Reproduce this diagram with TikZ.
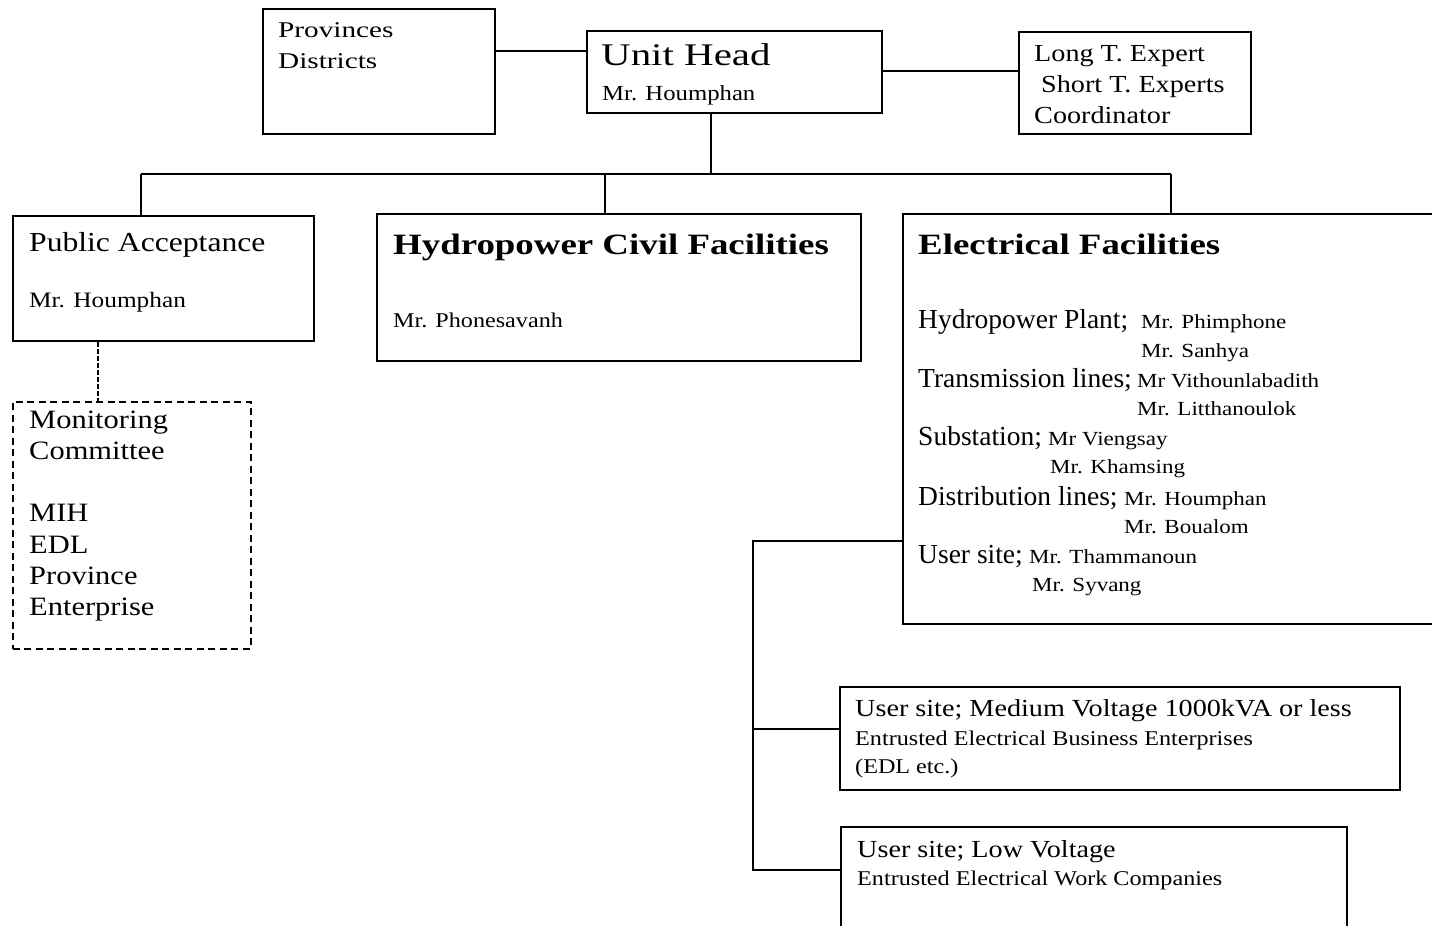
\documentclass[tikz,border=0pt]{standalone}
\usepackage{fontspec}
\setmainfont{Liberation Serif}
\newfontfamily\fntA{Liberation Serif}
\newfontfamily\fntB{Liberation Serif}[FakeStretch=1.15]
\newfontfamily\fntC{Liberation Serif}[FakeStretch=1.3]
\newfontfamily\fntD{Liberation Serif}[FakeStretch=1.25]
\newcommand\setfs[1]{\fontsize{#1}{#1}\selectfont}
\begin{document}
\begin{tikzpicture}[x=1pt,y=-1pt,
  box/.style={draw, line width=1.8pt, inner sep=0pt, anchor=north west},
  dbox/.style={box, line width=1.8pt, dash pattern=on 7pt off 4.5pt},
  txt/.style={anchor=base west, inner sep=0pt},
  link/.style={line width=1.8pt},
  dlink/.style={line width=1.1pt, dash pattern=on 5pt off 2pt}]
\useasboundingbox (0,0) rectangle (1432,926);
\fill[white] (0,0) rectangle (1432,926);
\clip (0,0) rectangle (1432,926);

% boxes
\node[box, minimum width=232pt, minimum height=125pt] (prov) at (262,8) {};
\node[box, minimum width=295pt, minimum height=82pt] (uh) at (586,30) {};
\node[box, minimum width=232pt, minimum height=102pt] (lt) at (1018,31) {};
\node[box, minimum width=301pt, minimum height=125pt] (pa) at (12,215) {};
\node[box, minimum width=484pt, minimum height=147pt] (hc) at (376,213) {};
\node[box, minimum width=545pt, minimum height=410pt] (el) at (902,213) {};
\node[dbox, minimum width=238pt, minimum height=247pt] (mc) at (12,401) {};
\node[box, minimum width=560pt, minimum height=103pt] (mv) at (839,686) {};
\node[box, minimum width=506pt, minimum height=130pt] (lv) at (840,826) {};

% connector coordinates
\coordinate (c1) at (0,51);
\coordinate (c2) at (0,71);
\coordinate (bus) at (711,174);
\coordinate (bL) at (141,174);
\coordinate (bM) at (605,174);
\coordinate (bR) at (1171,174);
\coordinate (d1) at (98,0);
\coordinate (j1) at (753,541);
\coordinate (j2) at (753,729);
\coordinate (j3) at (753,870);

% connectors
\draw[link] (prov.east |- c1) -- (uh.west |- c1);
\draw[link] (uh.east |- c2) -- (lt.west |- c2);
\draw[link] (uh.south -| bus) -- (bus);
\draw[link] (bL) -- (bR);
\draw[link] (bL) -- (bL |- pa.north);
\draw[link] (bM) -- (bM |- hc.north);
\draw[link] (bR) -- (bR |- el.north);
\draw[dlink] (d1 |- pa.south) -- (d1 |- mc.north);
\draw[link] (j1 -| el.west) -- (j1) -- (j3) -- (j3 -| lv.west);
\draw[link] (j2) -- (j2 -| mv.west);

% texts
\node[txt] (tprov) at (278,37) {\fntC\setfs{22.5}\vtop{\baselineskip=32pt\hbox{Provinces}\hbox{Districts}}};
\node[txt] (tuh1) at (601,65) {\fntC\setfs{31.5}Unit Head};
\node[txt] (tuh2) at (602,100) {\fntB\setfs{21.5}Mr. Houmphan};
\node[txt] (tlt) at (1034,61) {\fntB\setfs{24.5}\vtop{\baselineskip=31pt\hbox{Long T. Expert}\hbox{\hspace{7pt}Short T. Experts}\hbox{Coordinator}}};

\node[txt] (tpa1) at (29,251) {\fntB\setfs{27.5}Public Acceptance};
\node[txt] (tpa2) at (29,307) {\fntB\setfs{22}Mr. Houmphan};

\node[txt] (thc1) at (393,254) {\fntD\bfseries\setfs{29.5}Hydropower Civil Facilities};
\node[txt] (thc2) at (393,327) {\fntB\setfs{21}Mr. Phonesavanh};

\node[txt] (tel) at (918,254) {\fntD\bfseries\setfs{29.5}Electrical Facilities};
\node[txt] (te1) at (918,328) {\fntA\setfs{27.5}Hydropower Plant;};
\node[txt] (tn1) at (1141,328) {\fntB\setfs{20}\vtop{\baselineskip=29pt\hbox{Mr. Phimphone}\hbox{Mr. Sanhya}}};
\node[txt] (te2) at (918,387) {\fntA\setfs{27.5}Transmission lines;};
\node[txt] (tn2) at (1137,387) {\fntB\setfs{20}\vtop{\baselineskip=28pt\hbox{Mr Vithounlabadith}\hbox{Mr. Litthanoulok}}};
\node[txt] (te3) at (918,445) {\fntA\setfs{27.5}Substation;};
\node[txt] (tn3) at (1048,445) {\fntB\setfs{20}\vtop{\baselineskip=28pt\hbox{Mr Viengsay}\hbox{\hspace{2pt}Mr. Khamsing}}};
\node[txt] (te4) at (918,505) {\fntA\setfs{27.5}Distribution lines;};
\node[txt] (tn4) at (1124,505) {\fntB\setfs{20}\vtop{\baselineskip=28pt\hbox{Mr. Houmphan}\hbox{Mr. Boualom}}};
\node[txt] (te5) at (918,563) {\fntA\setfs{27.5}User site;};
\node[txt] (tn5) at (1029,563) {\fntB\setfs{20}\vtop{\baselineskip=28pt\hbox{Mr. Thammanoun}\hbox{\hspace{3pt}Mr. Syvang}}};

\node[txt] (tmc) at (29,428) {\fntB\setfs{26.5}\vtop{\baselineskip=31.3pt\hbox{Monitoring}\hbox{Committee}\hbox{}\hbox{MIH}\hbox{EDL}\hbox{Province}\hbox{Enterprise}}};

\node[txt] (tmv1) at (855,716) {\fntB\setfs{24.5}User site; Medium Voltage 1000kVA or less};
\node[txt] (tmv2) at (855,745) {\fntB\setfs{21}\vtop{\baselineskip=28pt\hbox{Entrusted Electrical Business Enterprises}\hbox{(EDL etc.)}}};

\node[txt] (tlv1) at (857,857) {\fntB\setfs{24.5}User site; Low Voltage};
\node[txt] (tlv2) at (857,885) {\fntB\setfs{21}Entrusted Electrical Work Companies};
\end{tikzpicture}
\end{document}
